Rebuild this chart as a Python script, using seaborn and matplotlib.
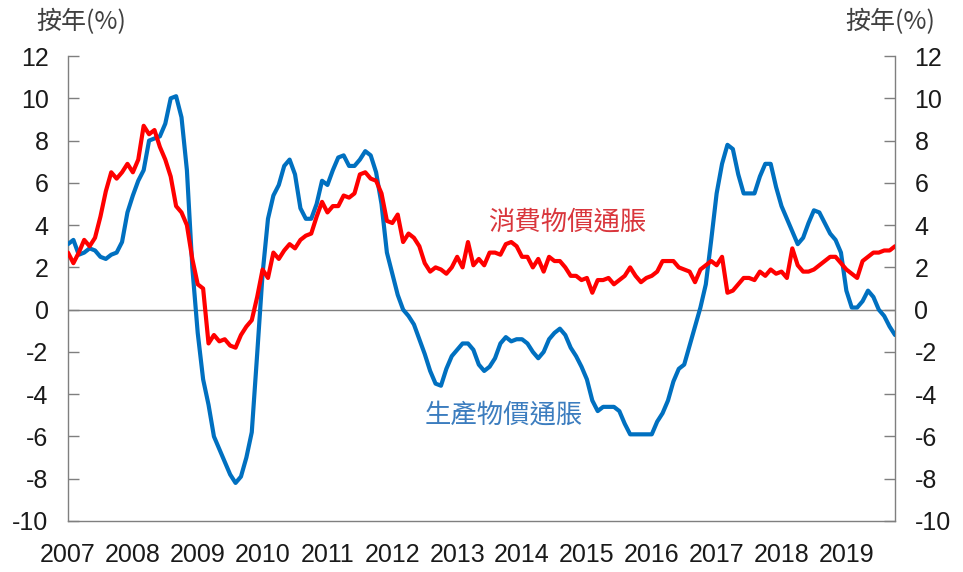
import matplotlib
matplotlib.use("Agg")
import matplotlib.pyplot as plt
from matplotlib.ticker import MultipleLocator, FixedLocator
import pandas as pd
import seaborn as sns

# monthly year-on-year rates, Dec 2006 .. Sep 2019
cpi = [2.7,
       2.2, 2.7, 3.3, 3.0, 3.4, 4.4, 5.6, 6.5, 6.2, 6.5, 6.9, 6.5,
       7.1, 8.7, 8.3, 8.5, 7.7, 7.1, 6.3, 4.9, 4.6, 4.0, 2.4, 1.2,
       1.0, -1.6, -1.2, -1.5, -1.4, -1.7, -1.8, -1.2, -0.8, -0.5, 0.6, 1.9,
       1.5, 2.7, 2.4, 2.8, 3.1, 2.9, 3.3, 3.5, 3.6, 4.4, 5.1, 4.6,
       4.9, 4.9, 5.4, 5.3, 5.5, 6.4, 6.5, 6.2, 6.1, 5.5, 4.2, 4.1,
       4.5, 3.2, 3.6, 3.4, 3.0, 2.2, 1.8, 2.0, 1.9, 1.7, 2.0, 2.5,
       2.0, 3.2, 2.1, 2.4, 2.1, 2.7, 2.7, 2.6, 3.1, 3.2, 3.0, 2.5,
       2.5, 2.0, 2.4, 1.8, 2.5, 2.3, 2.3, 2.0, 1.6, 1.6, 1.4, 1.5,
       0.8, 1.4, 1.4, 1.5, 1.2, 1.4, 1.6, 2.0, 1.6, 1.3, 1.5, 1.6,
       1.8, 2.3, 2.3, 2.3, 2.0, 1.9, 1.8, 1.3, 1.9, 2.1, 2.3, 2.1,
       2.5, 0.8, 0.9, 1.2, 1.5, 1.5, 1.4, 1.8, 1.6, 1.9, 1.7, 1.8,
       1.5, 2.9, 2.1, 1.8, 1.8, 1.9, 2.1, 2.3, 2.5, 2.5, 2.2, 1.9,
       1.7, 1.5, 2.3, 2.5, 2.7, 2.7, 2.8, 2.8, 3.0]

ppi = [3.1,
       3.3, 2.6, 2.7, 2.9, 2.8, 2.5, 2.4, 2.6, 2.7, 3.2, 4.6, 5.4,
       6.1, 6.6, 8.0, 8.1, 8.2, 8.8, 10.0, 10.1, 9.1, 6.6, 2.0, -1.1,
       -3.3, -4.5, -6.0, -6.6, -7.2, -7.8, -8.2, -7.9, -7.0, -5.8, -2.1, 1.7,
       4.3, 5.4, 5.9, 6.8, 7.1, 6.4, 4.8, 4.3, 4.3, 5.0, 6.1, 5.9,
       6.6, 7.2, 7.3, 6.8, 6.8, 7.1, 7.5, 7.3, 6.5, 5.0, 2.7, 1.7,
       0.7, 0.0, -0.3, -0.7, -1.4, -2.1, -2.9, -3.5, -3.6, -2.8, -2.2, -1.9,
       -1.6, -1.6, -1.9, -2.6, -2.9, -2.7, -2.3, -1.6, -1.3, -1.5, -1.4, -1.4,
       -1.6, -2.0, -2.3, -2.0, -1.4, -1.1, -0.9, -1.2, -1.8, -2.2, -2.7, -3.3,
       -4.3, -4.8, -4.6, -4.6, -4.6, -4.8, -5.4, -5.9, -5.9, -5.9, -5.9, -5.9,
       -5.3, -4.9, -4.3, -3.4, -2.8, -2.6, -1.7, -0.8, 0.1, 1.2, 3.3, 5.5,
       6.9, 7.8, 7.6, 6.4, 5.5, 5.5, 5.5, 6.3, 6.9, 6.9, 5.8, 4.9,
       4.3, 3.7, 3.1, 3.4, 4.1, 4.7, 4.6, 4.1, 3.6, 3.3, 2.7, 0.9,
       0.1, 0.1, 0.4, 0.9, 0.6, 0.0, -0.3, -0.8, -1.2]

years = [str(y) for y in range(2007, 2020)]
cpi_label = "消費物價通脹"
ppi_label = "生產物價通脹"
unit_label = "按年(%)"

df = pd.DataFrame({"month": range(len(cpi)), "cpi": cpi, "ppi": ppi})

sns.set_style("white")
plt.rcParams["font.family"] = ["Liberation Sans", "Noto Sans CJK TC"]
plt.rcParams["axes.unicode_minus"] = False
cjk = ["Noto Sans CJK TC", "Liberation Sans"]

fig = plt.figure(figsize=(9.63, 5.72), dpi=100)
ax = fig.add_axes([0.0706, 0.0892, 0.8588, 0.8128])

ax.axhline(0, color="#7f7f7f", lw=1.0, zorder=1)
sns.lineplot(data=df, x="month", y="ppi", ax=ax, color="#0070C0", lw=3.0, zorder=3)
sns.lineplot(data=df, x="month", y="cpi", ax=ax, color="#FF0000", lw=3.0, zorder=4)

ax.set_xlim(0, len(cpi) - 1)
ax.set_ylim(-10, 12)
ax.set_xlabel("")
ax.set_ylabel("")

ax.yaxis.set_major_locator(MultipleLocator(2))
ax.xaxis.set_major_locator(FixedLocator([12 * i for i in range(len(years))]))
ax.xaxis.set_minor_locator(MultipleLocator(1))
ax.set_xticklabels(years)

for side in ["left", "right", "bottom"]:
    ax.spines[side].set_color("#7f7f7f")
    ax.spines[side].set_linewidth(1.0)
ax.spines["top"].set_visible(False)

ax.tick_params(axis="y", which="major", direction="in", length=8, width=1,
               color="#7f7f7f", left=True, right=True, labelleft=True,
               labelright=True, labelsize=18, labelcolor="#1a1a1a", pad=14)
ax.tick_params(axis="x", which="major", direction="inout", length=13, width=1,
               color="#7f7f7f", labelsize=18, labelcolor="#1a1a1a", pad=9)
ax.tick_params(axis="x", which="minor", direction="in", length=5, width=0.8,
               color="#7f7f7f")

ax.text(92.3, 4.16, cpi_label, color="#D9363C", fontsize=19, family=cjk,
        ha="center", va="center")
ax.text(80.7, -4.97, ppi_label, color="#3C7DBF", fontsize=19, family=cjk,
        ha="center", va="center")

fig.text(0.084, 0.9615, unit_label, fontsize=18, color="#404040", family=cjk,
         ha="center", va="center")
fig.text(0.924, 0.9615, unit_label, fontsize=18, color="#404040", family=cjk,
         ha="center", va="center")

fig.savefig("out.png", dpi=100)
